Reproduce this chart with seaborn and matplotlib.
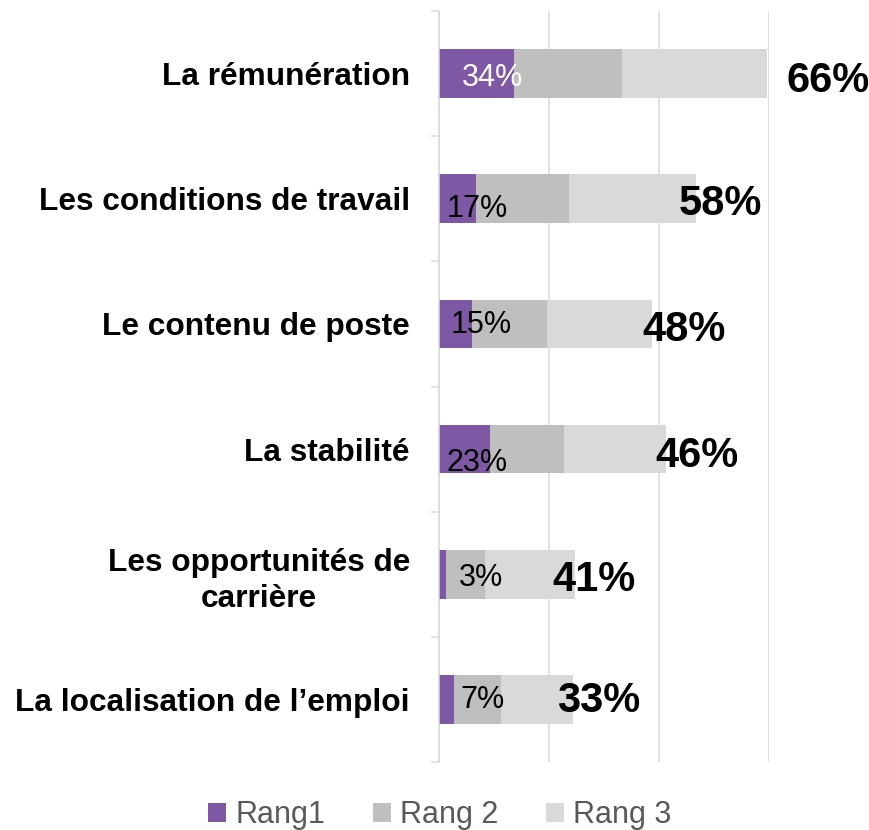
import matplotlib
matplotlib.use("Agg")
import matplotlib.pyplot as plt
import seaborn as sns
import pandas as pd
from matplotlib.patches import Patch

# ---- data ----
categories = ["La rémunération", "Les conditions de travail", "Le contenu de poste",
              "La stabilité", "Les opportunités de\ncarrière", "La localisation de l’emploi"]
rang1 = [34, 17, 15, 23, 3, 7]
rang2 = [49, 42, 34, 34, 18, 21]
rang3 = [66, 58, 48, 46, 41, 33]
series = ["Rang1", "Rang 2", "Rang 3"]

# ---- style ----
sns.set_theme(style="white")
plt.rcParams["font.family"] = ["Liberation Sans", "DejaVu Sans"]
colors = ["#7E58A4", "#BFBFBF", "#D9D9D9"]
grid_col = "#D9D9D9"
PX = 0.72  # points per pixel at dpi 100

df = pd.DataFrame({"cat": categories, "r1": rang1, "r2": rang2, "r3": rang3})
df["c1"] = df["r1"]
df["c2"] = df["r1"] + df["r2"]
df["c3"] = df["c2"] + df["r3"]

fig = plt.figure(figsize=(8.7, 8.3), dpi=100)
ax = fig.add_axes([439 / 870, 68 / 830, 330 / 870, 751 / 830])

for col, c in zip(["c3", "c2", "c1"], colors[::-1]):
    sns.barplot(data=df, x=col, y="cat", orient="h", color=c, width=0.39,
                saturation=1, ax=ax, linewidth=0)

ax.set_xlim(0, 150)
ax.set_ylim(5.5, -0.5)
ax.set_xticks([0, 50, 100, 150])
ax.set_axisbelow(True)
ax.xaxis.grid(True, color=grid_col, linewidth=1.1)
ax.yaxis.grid(False)
ax.tick_params(axis="x", length=0, labelbottom=False)
ax.set_xlabel("")
ax.set_ylabel("")
for s in ["top", "right", "bottom"]:
    ax.spines[s].set_visible(False)
ax.spines["left"].set_color(grid_col)
ax.spines["left"].set_linewidth(1.1)

ax.set_yticks(range(len(categories)))
ax.set_yticklabels(categories)
ax.set_yticks([i - 0.5 for i in range(len(categories) + 1)], minor=True)
ax.tick_params(axis="y", which="major", length=0, pad=29 * PX)
ax.tick_params(axis="y", which="minor", length=8 * PX, width=1.1, color=grid_col, left=True)
for t in ax.get_yticklabels():
    t.set_fontsize(22.8)
    t.set_fontweight("bold")
    t.set_color("black")
    t.set_multialignment("center")
    t.set_linespacing(1.25)

# ---- labels ----
r1_dx = [53, 38.5, 42, 38, 42, 43.5]
r1_dy = [1.5, 7.5, -2, 11, 1, -2.5]
r1_colors = ["white"] + ["black"] * 5
tot_dx = [20, -18, -10, -10, -23, -16]
tot_dy = [3.5, 1, 2.4, 3.3, 1.7, -2]
for i in range(len(categories)):
    ax.annotate(f"{rang1[i]}%", xy=(0, i), xycoords="data",
                xytext=(r1_dx[i] * PX, -(r1_dy[i] + 11) * PX), textcoords="offset points",
                ha="center", va="baseline", fontsize=22, color=r1_colors[i],
                annotation_clip=False)
    ax.annotate(f"{rang3[i]}%", xy=(df["c3"][i], i), xycoords="data",
                xytext=(tot_dx[i] * PX, -(tot_dy[i] + 15) * PX), textcoords="offset points",
                ha="left", va="baseline", fontsize=30, fontweight="bold", color="black",
                annotation_clip=False)

# ---- legend ----
handles = [Patch(facecolor=c, edgecolor="none") for c in colors]
fig.legend(handles, series, loc="center", bbox_to_anchor=(440 / 870, 15 / 830), ncol=3,
           frameon=False, fontsize=22, handlelength=0.57, handleheight=0.57,
           handletextpad=0.31, columnspacing=1.57, labelcolor="#595959",
           borderpad=0, borderaxespad=0)

fig.savefig("out.png", dpi=100)
